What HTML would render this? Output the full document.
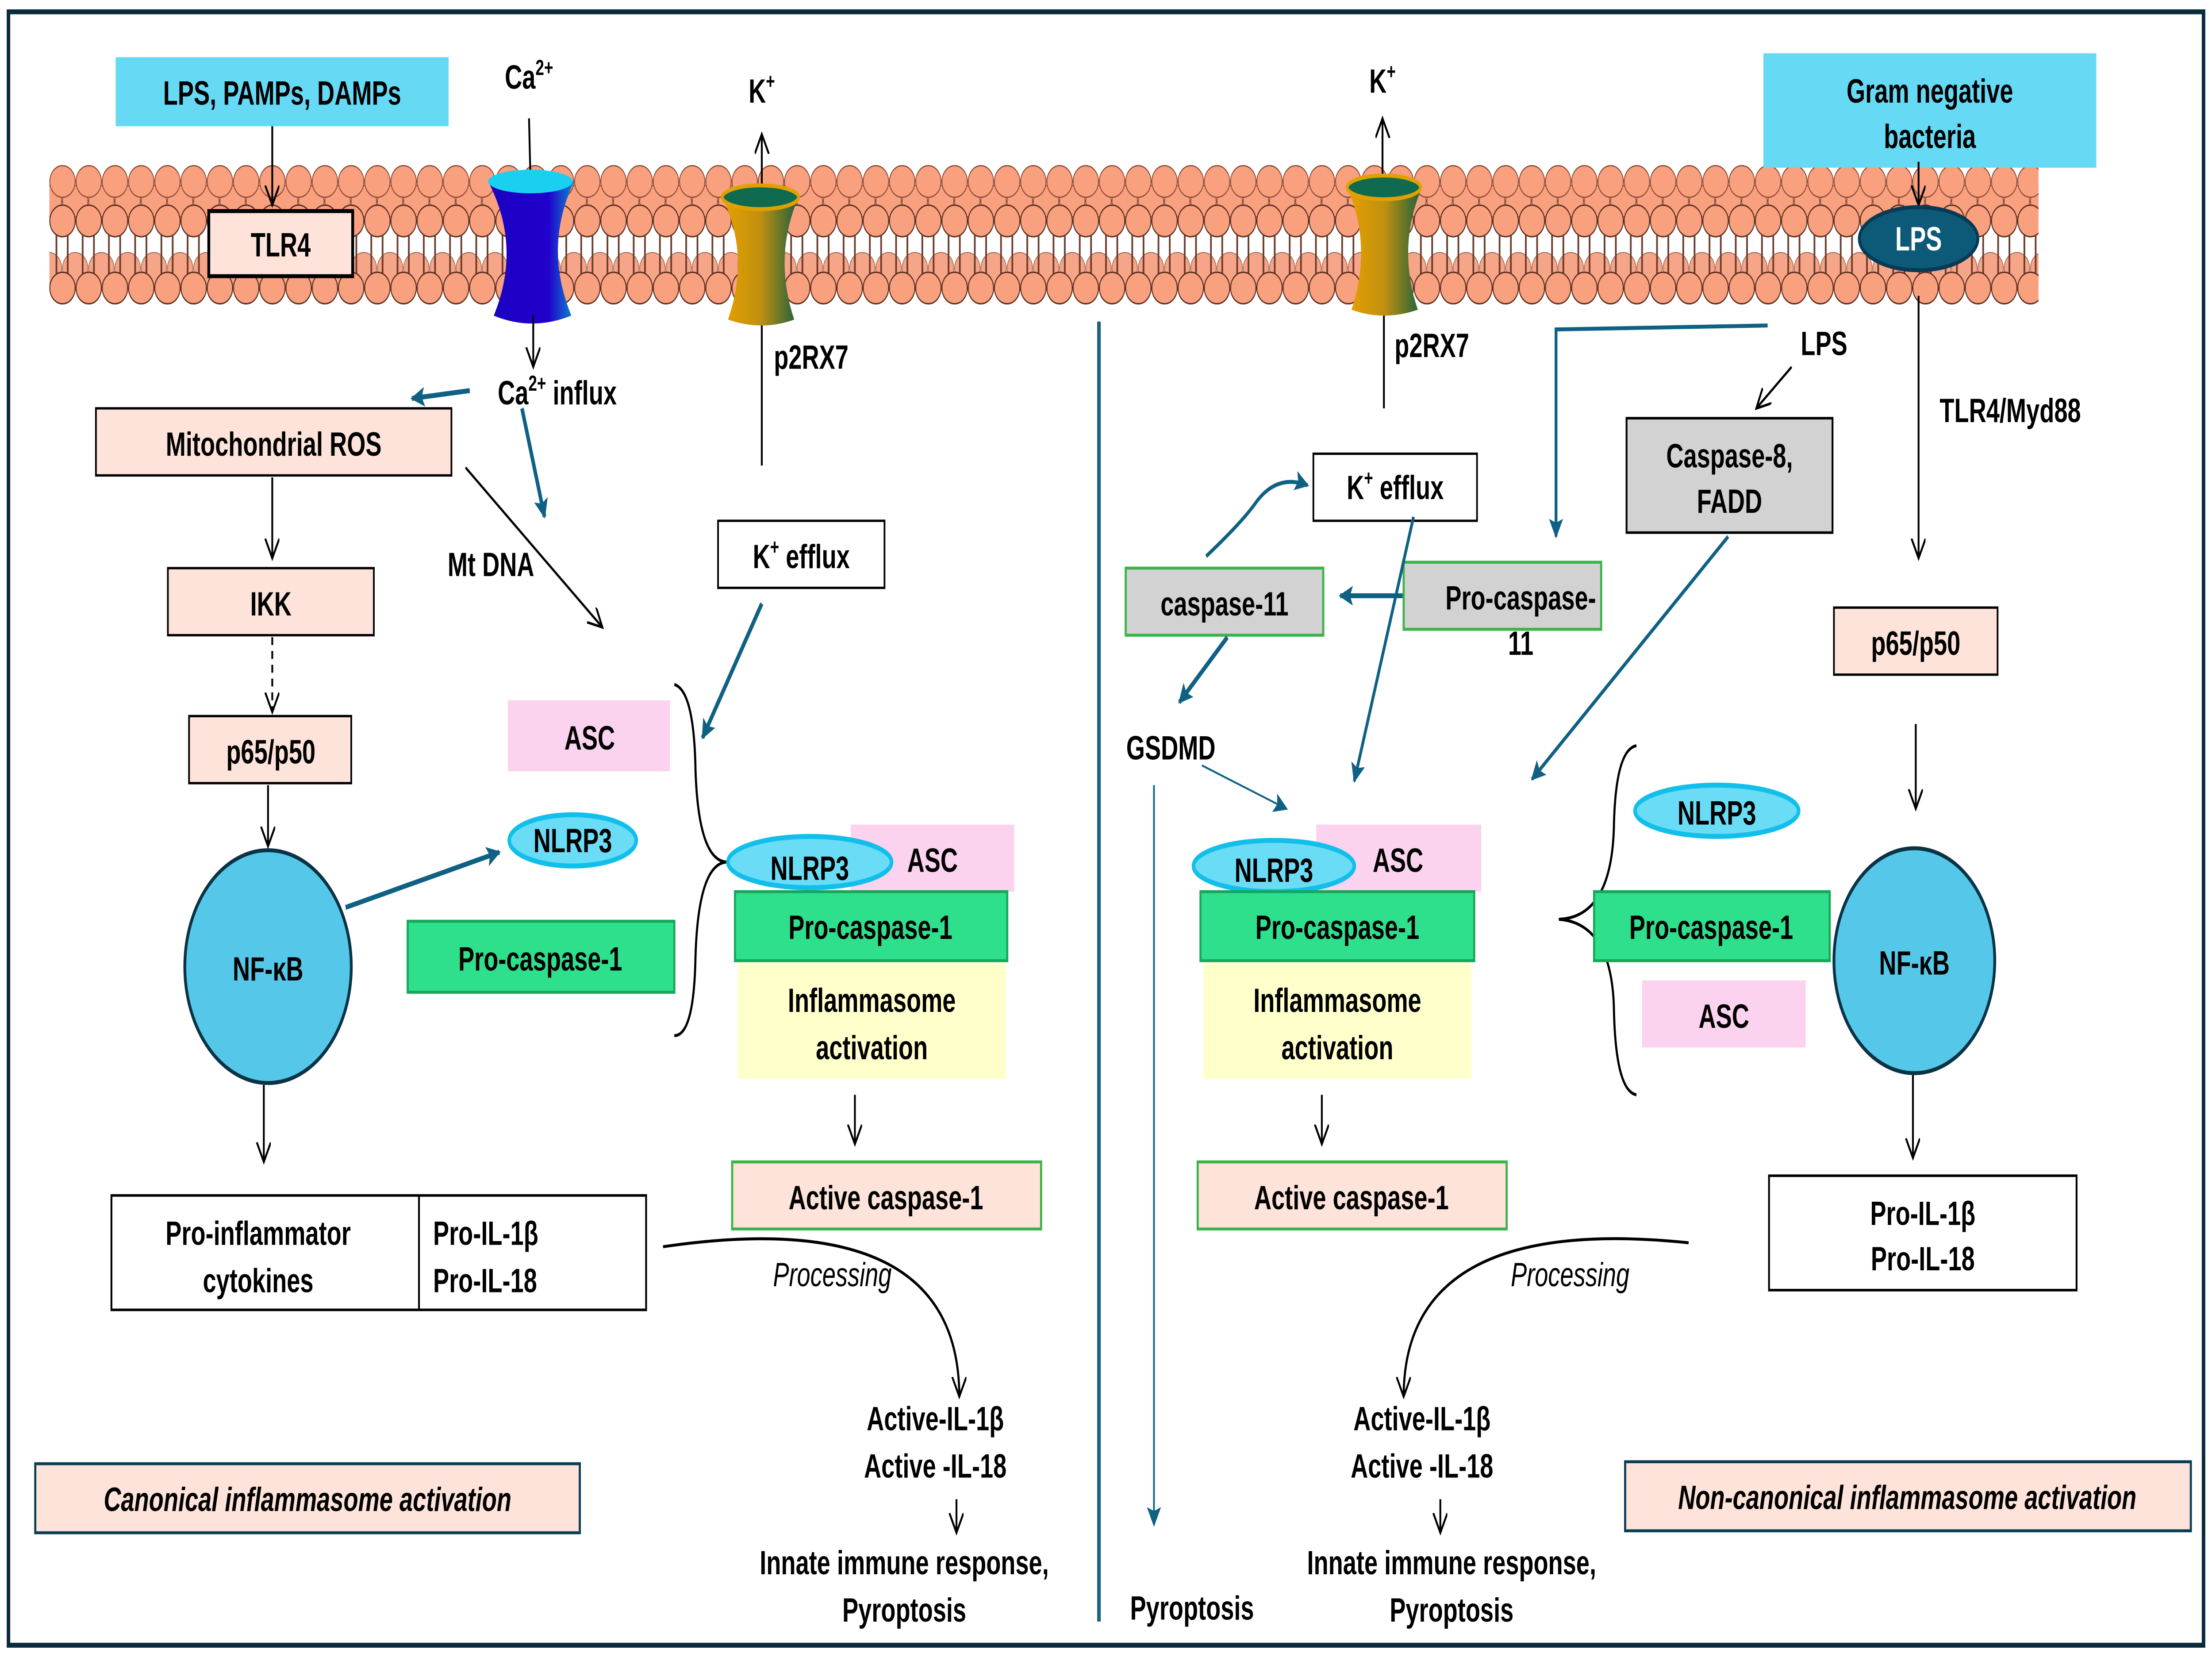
<!DOCTYPE html>
<html><head><meta charset="utf-8"><style>
html,body{margin:0;padding:0;background:#fff;width:100%;height:100%;overflow:hidden;}
svg{display:block;position:fixed;left:0;top:0;width:100vw;height:100vh;}
text{font-family:"Liberation Sans",Arial,sans-serif;font-weight:bold;font-size:17px;fill:#000;text-anchor:middle;}
</style></head><body>
<svg viewBox="0 0 1568 842" preserveAspectRatio="none" xmlns="http://www.w3.org/2000/svg">
<defs>
<marker id="ab" markerWidth="12" markerHeight="12" refX="10" refY="5" orient="auto" markerUnits="userSpaceOnUse">
<path d="M0,0 L10,5 L0,10" fill="none" stroke="#000" stroke-width="1.3"/></marker>
<marker id="au" markerWidth="12" markerHeight="12" refX="9" refY="5" orient="auto" markerUnits="userSpaceOnUse">
<path d="M0,0 L10,5 L0,10 L2,5z" fill="#0f6184"/></marker>
<pattern id="heads" x="35" y="0" width="18.6" height="842" patternUnits="userSpaceOnUse">
<ellipse cx="9.3" cy="92" rx="9" ry="8" fill="#f9a07e" stroke="#8a4a35" stroke-width="0.6"/>
<ellipse cx="9.3" cy="112" rx="9" ry="8" fill="#f9a07e" stroke="#5a2e20" stroke-width="0.7"/>
<path d="M5,119 v24 M13,119 v24" stroke="#6b3a2a" stroke-width="1.2" fill="none"/>
<ellipse cx="9.3" cy="146" rx="9" ry="8" fill="#f9a07e" stroke="#5a2e20" stroke-width="0.7"/>
</pattern>
<pattern id="heads2" x="44" y="0" width="18.6" height="842" patternUnits="userSpaceOnUse">
<ellipse cx="9.3" cy="102" rx="9" ry="8" fill="#f9a07e" stroke="#8a4a35" stroke-width="0.6"/>
<ellipse cx="9.3" cy="136" rx="9" ry="8" fill="#f6a588" stroke="#a06a55" stroke-width="0.5"/>
</pattern>
<linearGradient id="blueG" x1="0" x2="1"><stop offset="0" stop-color="#1a00c0"/><stop offset="0.7" stop-color="#2200cc"/><stop offset="1" stop-color="#0a8bd0"/></linearGradient>
<linearGradient id="goldG" x1="0" x2="1"><stop offset="0" stop-color="#e8a000"/><stop offset="0.5" stop-color="#c09010"/><stop offset="1" stop-color="#1a6040"/></linearGradient>
</defs>
<rect x="6" y="6" width="1556" height="828" fill="#fff" stroke="#0b2a3c" stroke-width="2.5"/>
<rect x="35" y="82" width="1410" height="75" fill="url(#heads2)"/>
<rect x="35" y="82" width="1410" height="75" fill="url(#heads)"/>
<rect x="82" y="29" width="236" height="35" fill="#66d9f5"/>
<text x="200" y="53">LPS, PAMPs, DAMPs</text>
<line x1="193" y1="64" x2="193" y2="104" stroke="#000" stroke-width="1.3" marker-end="url(#ab)"/>
<rect x="148" y="107" width="102" height="33" fill="#fde3d9" stroke="#000" stroke-width="2"/>
<text x="199" y="130">TLR4</text>
<text x="375" y="45">Ca<tspan font-size="11" dy="-7">2+</tspan></text>
<line x1="375" y1="60" x2="376" y2="90" stroke="#000" stroke-width="1.3"/>
<path d="M346,92 Q377,86 407,92 Q385,125 405,160 Q377,168 350,160 Q370,125 346,92z" fill="url(#blueG)"/>
<ellipse cx="376" cy="92" rx="30" ry="6" fill="#1ad0f0"/>
<line x1="378" y1="160" x2="378" y2="186" stroke="#000" stroke-width="1.3" marker-end="url(#ab)"/>
<text x="395" y="205">Ca<tspan font-size="11" dy="-7">2+</tspan><tspan dy="7"> influx</tspan></text>
<text x="540" y="52">K<tspan font-size="11" dy="-7">+</tspan></text>
<line x1="540" y1="97" x2="540" y2="68" stroke="#000" stroke-width="1.3" marker-end="url(#ab)"/>
<path d="M512,100 Q540,94 566,100 Q548,130 563,162 Q540,168 516,162 Q532,130 512,100z" fill="url(#goldG)"/>
<ellipse cx="539" cy="100" rx="27" ry="6" fill="#0f6a50" stroke="#e0a000" stroke-width="2"/>
<text x="575" y="187">p2RX7</text>
<line x1="540" y1="165" x2="540" y2="236" stroke="#000" stroke-width="1.3"/>
<rect x="68" y="207" width="252" height="34" fill="#fde3d9" stroke="#000" stroke-width="1.2"/>
<text x="194" y="231">Mitochondrial ROS</text>
<line x1="333" y1="198" x2="292" y2="202" stroke="#0f6184" stroke-width="2.5" marker-end="url(#au)"/>
<line x1="193" y1="242" x2="193" y2="283" stroke="#000" stroke-width="1.3" marker-end="url(#ab)"/>
<rect x="119" y="288" width="146" height="34" fill="#fde3d9" stroke="#000" stroke-width="1.2"/>
<text x="192" y="312">IKK</text>
<line x1="193" y1="323" x2="193" y2="361" stroke="#000" stroke-width="1.3" stroke-dasharray="4,3" marker-end="url(#ab)"/>
<rect x="134" y="363" width="115" height="34" fill="#fde3d9" stroke="#000" stroke-width="1.2"/>
<text x="192" y="387">p65/p50</text>
<line x1="190" y1="398" x2="190" y2="429" stroke="#000" stroke-width="1.3" marker-end="url(#ab)"/>
<circle cx="190" cy="490" r="59" fill="#55c8ea" stroke="#0a3346" stroke-width="2"/>
<text x="190" y="497" font-size="18">NF-κB</text>
<line x1="187" y1="550" x2="187" y2="589" stroke="#000" stroke-width="1.3" marker-end="url(#ab)"/>
<rect x="79" y="606" width="379" height="58" fill="#fff" stroke="#000" stroke-width="1.3"/>
<line x1="297" y1="606" x2="297" y2="664" stroke="#000" stroke-width="1.3"/>
<text x="183" y="631">Pro-inflammator</text><text x="183" y="655">cytokines</text>
<text x="307" y="631" style="text-anchor:start">Pro-IL-1β</text><text x="307" y="655" style="text-anchor:start">Pro-IL-18</text>
<text x="348" y="292" font-size="15">Mt DNA</text>
<line x1="330" y1="237" x2="427" y2="318" stroke="#000" stroke-width="1.3" marker-end="url(#ab)"/>
<line x1="370" y1="207" x2="386" y2="262" stroke="#0f6184" stroke-width="2.5" marker-end="url(#au)"/>
<rect x="509" y="264" width="118" height="34" fill="#fff" stroke="#000" stroke-width="1.2"/>
<text x="568" y="288">K<tspan font-size="11" dy="-7">+</tspan><tspan dy="7"> efflux</tspan></text>
<line x1="540" y1="306" x2="498" y2="374" stroke="#0f6184" stroke-width="2.5" marker-end="url(#au)"/>
<rect x="360" y="355" width="115" height="36" fill="#fbd3ef"/>
<text x="418" y="380">ASC</text>
<line x1="245" y1="460" x2="354" y2="432" stroke="#0f6184" stroke-width="2.5" marker-end="url(#au)"/>
<ellipse cx="406" cy="426" rx="45" ry="13" fill="#6adcf6" stroke="#12bfea" stroke-width="2.5"/>
<text x="406" y="432">NLRP3</text>
<rect x="289" y="467" width="189" height="36" fill="#2ee08c" stroke="#16a85a" stroke-width="1.5"/>
<text x="383" y="492">Pro-caspase-1</text>
<path d="M478,347 Q492,350 493,390 Q495,436 515,437 Q495,438 493,485 Q492,525 478,525" fill="none" stroke="#000" stroke-width="1.5"/>
<rect x="603" y="418" width="116" height="34" fill="#fbd3ef"/>
<text x="661" y="442">ASC</text>
<ellipse cx="574" cy="437" rx="58" ry="13" fill="#6adcf6" stroke="#12bfea" stroke-width="2.5"/>
<text x="574" y="446">NLRP3</text>
<rect x="521" y="452" width="193" height="35" fill="#2ee08c" stroke="#16a85a" stroke-width="1.5"/>
<text x="617" y="476">Pro-caspase-1</text>
<rect x="523" y="488" width="190" height="59" fill="#ffffcc"/>
<text x="618" y="513">Inflammasome</text><text x="618" y="537">activation</text>
<line x1="606" y1="555" x2="606" y2="580" stroke="#000" stroke-width="1.3" marker-end="url(#ab)"/>
<rect x="519" y="589" width="219" height="34" fill="#fde3d9" stroke="#3cb34a" stroke-width="1.5"/>
<text x="628" y="613">Active caspase-1</text>
<path d="M470,632 Q680,610 680,708" fill="none" stroke="#000" stroke-width="1.5" marker-end="url(#ab)"/>
<text x="590" y="652" style="font-weight:normal;font-style:italic">Processing</text>
<text x="663" y="725">Active-IL-1β</text><text x="663" y="749">Active -IL-18</text>
<line x1="678" y1="760" x2="678" y2="777" stroke="#000" stroke-width="1.3" marker-end="url(#ab)"/>
<text x="641" y="798">Innate immune response,</text><text x="641" y="822">Pyroptosis</text>
<rect x="25" y="742" width="386" height="35" fill="#fde3d9" stroke="#0b3d55" stroke-width="1.5"/>
<text x="218" y="766" style="font-style:italic">Canonical inflammasome activation</text>
<line x1="779" y1="163" x2="779" y2="822" stroke="#1f5f80" stroke-width="2.5"/>
<text x="980" y="47">K<tspan font-size="11" dy="-7">+</tspan></text>
<line x1="980" y1="92" x2="980" y2="60" stroke="#000" stroke-width="1.3" marker-end="url(#ab)"/>
<path d="M955,95 Q981,89 1008,95 Q990,125 1005,157 Q981,163 958,157 Q973,125 955,95z" fill="url(#goldG)"/>
<ellipse cx="981" cy="95" rx="26" ry="6" fill="#0f6a50" stroke="#e0a000" stroke-width="2"/>
<text x="1015" y="181">p2RX7</text>
<line x1="981" y1="160" x2="981" y2="207" stroke="#000" stroke-width="1.3"/>
<rect x="1250" y="27" width="236" height="58" fill="#66d9f5"/>
<text x="1368" y="52">Gram negative</text><text x="1368" y="75">bacteria</text>
<line x1="1360" y1="82" x2="1360" y2="104" stroke="#000" stroke-width="1.3" marker-end="url(#ab)"/>
<ellipse cx="1360" cy="121" rx="42" ry="16" fill="#0d5a78" stroke="#073a55" stroke-width="2"/>
<text x="1360" y="127" style="fill:#fff">LPS</text>
<line x1="1360" y1="150" x2="1360" y2="283" stroke="#000" stroke-width="1.3" marker-end="url(#ab)"/>
<text x="1425" y="214" font-size="15">TLR4/Myd88</text>
<polyline points="1253,165 1103,167 1103,272" fill="none" stroke="#0f6184" stroke-width="2" marker-end="url(#au)"/>
<text x="1293" y="180" font-size="15">LPS</text>
<line x1="1270" y1="186" x2="1245" y2="207" stroke="#000" stroke-width="1.3" marker-end="url(#ab)"/>
<rect x="1153" y="212" width="146" height="58" fill="#d2d2d2" stroke="#000" stroke-width="1.3"/>
<text x="1226" y="237">Caspase-8,</text><text x="1226" y="260">FADD</text>
<rect x="931" y="230" width="116" height="34" fill="#fff" stroke="#000" stroke-width="1.2"/>
<text x="989" y="253">K<tspan font-size="11" dy="-7">+</tspan><tspan dy="7"> efflux</tspan></text>
<path d="M855,282 Q880,265 890,255 Q905,240 927,246" fill="none" stroke="#0f6184" stroke-width="2" marker-end="url(#au)"/>
<rect x="798" y="288" width="140" height="34" fill="#d2d2d2" stroke="#3cb34a" stroke-width="1.5"/>
<text x="868" y="312">caspase-11</text>
<line x1="995" y1="302" x2="950" y2="302" stroke="#0f6184" stroke-width="2.5" marker-end="url(#au)"/>
<rect x="995" y="285" width="140" height="34" fill="#d2d2d2" stroke="#3cb34a" stroke-width="1.5"/>
<text x="1078" y="309">Pro-caspase-</text><text x="1078" y="332">11</text>
<line x1="870" y1="323" x2="836" y2="356" stroke="#0f6184" stroke-width="2.5" marker-end="url(#au)"/>
<text x="830" y="385" font-size="15">GSDMD</text>
<line x1="852" y1="388" x2="912" y2="410" stroke="#0f6184" stroke-width="1" marker-end="url(#au)"/>
<line x1="818" y1="398" x2="818" y2="773" stroke="#0f6184" stroke-width="1.2" marker-end="url(#au)"/>
<text x="845" y="821">Pyroptosis</text>
<line x1="1002" y1="262" x2="960" y2="396" stroke="#0f6184" stroke-width="2" marker-end="url(#au)"/>
<line x1="1225" y1="272" x2="1086" y2="395" stroke="#0f6184" stroke-width="2" marker-end="url(#au)"/>
<rect x="933" y="418" width="117" height="34" fill="#fbd3ef"/>
<text x="991" y="442">ASC</text>
<ellipse cx="903" cy="439" rx="57" ry="13" fill="#6adcf6" stroke="#12bfea" stroke-width="2.5"/>
<text x="903" y="447">NLRP3</text>
<rect x="851" y="452" width="194" height="35" fill="#2ee08c" stroke="#16a85a" stroke-width="1.5"/>
<text x="948" y="476">Pro-caspase-1</text>
<rect x="853" y="488" width="190" height="59" fill="#ffffcc"/>
<text x="948" y="513">Inflammasome</text><text x="948" y="537">activation</text>
<line x1="937" y1="555" x2="937" y2="580" stroke="#000" stroke-width="1.3" marker-end="url(#ab)"/>
<rect x="849" y="589" width="219" height="34" fill="#fde3d9" stroke="#3cb34a" stroke-width="1.5"/>
<text x="958" y="613">Active caspase-1</text>
<path d="M1197,630 Q995,615 995,708" fill="none" stroke="#000" stroke-width="1.5" marker-end="url(#ab)"/>
<text x="1113" y="652" style="font-weight:normal;font-style:italic">Processing</text>
<text x="1008" y="725">Active-IL-1β</text><text x="1008" y="749">Active -IL-18</text>
<line x1="1021" y1="760" x2="1021" y2="777" stroke="#000" stroke-width="1.3" marker-end="url(#ab)"/>
<text x="1029" y="798">Innate immune response,</text><text x="1029" y="822">Pyroptosis</text>
<rect x="1152" y="741" width="401" height="35" fill="#fde3d9" stroke="#0b3d55" stroke-width="1.5"/>
<text x="1352" y="765" style="font-style:italic">Non-canonical inflammasome activation</text>
<path d="M1160,378 Q1145,380 1144,420 Q1142,465 1105,466 Q1142,468 1144,510 Q1145,553 1160,555" fill="none" stroke="#000" stroke-width="1.5"/>
<ellipse cx="1217" cy="411" rx="58" ry="13" fill="#6adcf6" stroke="#12bfea" stroke-width="2.5"/>
<text x="1217" y="418">NLRP3</text>
<rect x="1130" y="452" width="167" height="35" fill="#2ee08c" stroke="#16a85a" stroke-width="1.5"/>
<text x="1213" y="476">Pro-caspase-1</text>
<rect x="1164" y="497" width="116" height="34" fill="#fbd3ef"/>
<text x="1222" y="521">ASC</text>
<rect x="1300" y="308" width="116" height="34" fill="#fde3d9" stroke="#000" stroke-width="1.2"/>
<text x="1358" y="332">p65/p50</text>
<line x1="1358" y1="367" x2="1358" y2="410" stroke="#000" stroke-width="1.3" marker-end="url(#ab)"/>
<circle cx="1357" cy="487" r="57" fill="#55c8ea" stroke="#0a3346" stroke-width="2"/>
<text x="1357" y="494" font-size="18">NF-κB</text>
<line x1="1356" y1="545" x2="1356" y2="587" stroke="#000" stroke-width="1.3" marker-end="url(#ab)"/>
<rect x="1254" y="596" width="218" height="58" fill="#fff" stroke="#000" stroke-width="1.3"/>
<text x="1363" y="621">Pro-IL-1β</text><text x="1363" y="644">Pro-IL-18</text>
</svg>
</body></html>
